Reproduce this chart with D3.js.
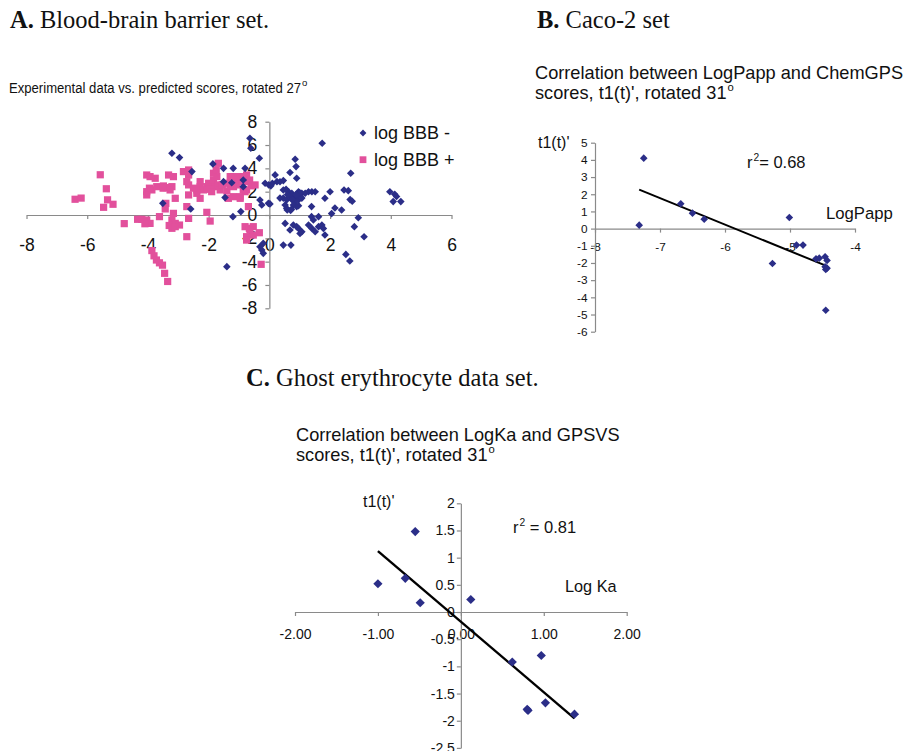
<!DOCTYPE html>
<html>
<head>
<meta charset="utf-8">
<script src="https://cdn.jsdelivr.net/npm/d3@7"></script>
<style>
  body { margin: 0; background: #fff; }
</style>
</head>
<body>
<div id="chart"></div>
<script>
// ---- A. blood-brain barrier: [predicted score, experimental] pairs
const bbbNeg = [
  [-3.21,5.29],[-2.96,4.92],[-3.51,1.00],[-2.59,0.52],[-2.55,3.72],[-1.86,4.38],[-1.51,4.00],[-1.51,2.86],
  [-1.24,2.77],[-1.46,1.49],[-1.20,-0.14],[-1.40,-4.43],[-0.94,0.29],[-0.86,3.00],[-0.80,4.00],[-0.86,2.43],
  [-0.64,6.58],[-0.61,5.72],[-0.33,4.86],[-0.31,1.29],[-0.25,0.86],[-0.20,-2.43],[-0.25,-3.00],[-0.20,-3.29],
  [-0.31,-2.72],[-1.19,4.00],
  [-0.14,2.72],[-0.02,2.58],[0.10,2.72],[0.25,2.86],[0.19,3.44],[0.35,2.85],[0.46,2.95],[0.05,2.50],
  [-0.03,1.00],[0.02,0.95],
  [1.74,6.15],[0.85,4.78],[0.88,4.15],[0.68,3.65],[0.90,3.15],
  [0.46,2.15],[0.63,2.00],[0.74,1.86],[0.96,2.00],[1.07,1.86],[1.18,1.86],[1.29,2.00],[1.40,2.00],[1.51,2.00],[0.55,2.20],
  [0.35,1.45],[0.46,1.45],[0.57,1.30],[0.68,1.60],[0.79,1.45],[0.90,1.60],[0.96,1.30],[1.01,1.60],[1.07,1.45],
  [0.85,1.15],[0.75,1.30],[1.00,1.90],[0.60,1.75],[0.88,1.75],
  [0.52,0.86],[0.57,0.57],[0.79,0.86],[0.90,0.72],[0.96,0.80],[0.70,0.40],[0.59,0.43],[0.73,0.49],
  [0.52,-0.72],[0.68,-1.29],[0.79,-0.86],[0.90,-1.00],[0.96,-1.15],[1.07,-1.43],[1.01,-1.58],[1.29,-0.86],
  [1.40,-1.15],[1.51,-1.43],[1.62,-1.00],[1.73,-0.86],[1.78,-1.15],[1.83,-1.72],[0.46,-2.58],[0.71,-2.58],
  [1.39,-0.14],[1.62,-0.14],[1.45,-0.43],[1.39,0.72],
  [1.83,1.43],[2.00,2.00],[2.05,0.12],[2.16,0.60],[2.38,0.43],[2.46,2.14],[2.60,2.09],[2.66,1.32],[2.73,1.18],
  [2.68,3.58],[2.93,-0.23],[2.80,-1.00],[3.12,-1.86],[2.52,-3.38],[2.65,-3.95],
  [3.97,2.00],[4.13,1.78],[4.19,1.58],[4.08,1.15],[4.33,1.15]
];
const bbbPos = [
  [-6.40,1.35],[-6.20,1.45],[-5.57,3.45],[-5.37,2.25],[-5.33,1.30],[-5.15,0.92],[-5.46,0.66],[-4.78,-0.74],
  [-4.34,-0.37],[-4.20,-0.37],[-4.04,-0.43],[-3.93,-0.72],[-4.10,-0.75],
  [-4.04,3.43],[-3.93,3.29],[-3.76,3.15],[-4.04,2.00],[-4.04,1.72],[-3.87,2.15],[-3.71,2.43],[-3.49,2.49],[-3.38,2.35],
  [-3.32,3.43],[-3.16,3.29],[-3.21,2.43],[-3.27,2.15],[-3.10,1.43],[-3.41,1.00],[-3.43,0.52],[-3.62,-0.14],[-3.16,0.14],
  [-3.21,-0.43],[-3.10,-0.72],[-3.21,-1.14],[-2.96,-0.86],[-3.30,-0.90],[-3.10,-1.00],[-3.50,2.30],[-3.95,2.30],
  [-2.83,3.72],[-2.66,3.86],[-2.66,3.43],[-2.72,2.86],[-2.66,2.58],[-2.66,1.72],[-2.72,0.72],[-2.66,-0.29],[-2.72,-1.86],
  [-2.39,2.15],[-2.28,2.43],[-2.28,2.86],[-2.17,2.15],[-2.28,1.43],[-2.06,0.23],[-1.95,-0.52],[-2.39,1.86],[-2.50,2.30],
  [-2.06,2.43],[-2.00,2.72],[-1.90,2.43],[-1.84,3.00],[-1.84,3.58],[-1.75,3.86],[-1.68,4.43],[-1.79,2.43],[-1.68,2.58],
  [-1.62,2.15],[-1.73,3.29],[-1.95,2.20],[-1.55,2.60],[-1.90,2.00],
  [-1.29,3.29],[-1.29,2.58],[-1.18,2.43],[-1.07,2.58],[-1.07,3.00],[-1.02,3.29],[-0.91,2.86],[-0.86,3.29],[-0.75,3.43],
  [-0.75,2.86],[-1.40,2.72],[-1.24,3.29],[-0.60,2.50],[-0.65,3.00],
  [-1.40,2.06],[-1.35,1.43],[-0.96,1.43],[-0.80,2.00],[-0.75,2.15],[-0.47,2.58],[-1.18,1.57],[-0.96,1.57],[-0.86,2.15],
  [-0.69,0.72],[-0.80,-1.00],[-0.66,-1.14],[-0.53,-1.00],[-0.53,-1.72],[-0.75,-1.86],[-0.33,-1.52],[-0.27,-4.23],
  [-0.64,-1.29],[-0.75,-2.15],
  [-3.87,-3.05],[-3.80,-3.50],[-3.72,-3.86],[-3.62,-4.10],[-3.52,-4.30],[-3.45,-5.00],[-3.35,-5.70]
];
const bbbXTicks = [-8, -6, -4, -2, 0, 2, 4, 6];
const bbbYTicks = [-8, -6, -4, -2, 0, 2, 4, 6, 8];
const bbbLegend = ["log BBB -", "log BBB +"];

// ---- B. Caco-2
const cacoLogPapp = [-7.32, -7.25, -6.68, -6.50, -6.32, -5.01, -5.27, -4.90, -4.80, -4.60, -4.55, -4.46, -4.43, -4.46, -4.45, -4.43, -4.45];
const cacoScore   = [0.20, 4.10, 1.45, 0.90, 0.55, 0.65, -2.03, -0.96, -0.96, -1.76, -1.72, -1.64, -1.85, -2.22, -2.38, -2.30, -4.75];
const cacoXTicks = [-8, -7, -6, -5, -4];
const cacoYTicks = [-6, -5, -4, -3, -2, -1, 0, 1, 2, 3, 4, 5];

// ---- C. Ghost erythrocyte
const ghostLogKa = [-1.00, -0.67, -0.55, -0.49, 0.12, 0.62, 0.97, 0.80, 0.81, 1.02, 1.37];
const ghostScore = [0.52, 0.62, 1.48, 0.17, 0.23, -0.92, -0.80, -1.79, -1.81, -1.67, -1.88];
const ghostXTicks = [-2, -1, 0, 1, 2];
const ghostYTicks = [-2.5, -2, -1.5, -1, -0.5, 0, 0.5, 1, 1.5, 2];

const blue = "#2b2e88";
const pink = "#e2509c";
const axisGrey = "#8a8a8a";
const sans = "'Liberation Sans', Arial, sans-serif";
const serif = "'Liberation Serif', 'Times New Roman', serif";

const width = 917;
const height = 751;
const svg = d3.select("#chart")
  .append("svg")
  .attr("width", width)
  .attr("height", height)
  .style("background", "#fff");

// diamond like excel's marker
function diamond(r) {
  return "M0," + (-r) + "L" + r + ",0L0," + r + "L" + (-r) + ",0Z";
}

// text line with a small raised part (degrees, r squared)
function supText(x, y, size, before, sup, after, squeeze) {
  const t = svg.append("text")
    .attr("x", x).attr("y", y)
    .attr("font-family", sans)
    .attr("font-size", size)
    .attr("fill", "#111");
  const first = t.append("tspan").text(before);
  if (squeeze) first.attr("textLength", squeeze).attr("lengthAdjust", "spacingAndGlyphs");
  t.append("tspan").attr("dx", 1).attr("dy", -size * 0.42).attr("font-size", size * 0.62).text(sup);
  if (after) t.append("tspan").attr("dy", size * 0.42).text(after);
  return t;
}

function panelTitle(x, y, letter, rest) {
  const t = svg.append("text")
    .attr("x", x).attr("y", y)
    .attr("font-family", serif)
    .attr("font-size", 24.5)
    .attr("fill", "#111");
  t.append("tspan").attr("font-weight", "bold").text(letter);
  t.append("tspan").text(" " + rest);
}

function styleAxis(g, fontSize) {
  g.select(".domain").attr("stroke", axisGrey).attr("stroke-width", 1.2);
  g.selectAll(".tick line").attr("stroke", axisGrey).attr("stroke-width", 1.2);
  g.selectAll(".tick text")
    .attr("fill", "#111")
    .attr("font-family", sans)
    .attr("font-size", fontSize);
}

function drawAxes(x, y, xAt, yAt, xTicks, yTicks, xFmt, yFmt, fontSize, xPad, yPad) {
  const gx = svg.append("g")
    .attr("transform", "translate(0," + y(xAt) + ")")
    .call(d3.axisBottom(x).tickValues(xTicks).tickFormat(xFmt)
      .tickSize(4).tickSizeOuter(0).tickPadding(xPad));
  styleAxis(gx, fontSize);
  const gy = svg.append("g")
    .attr("transform", "translate(" + x(yAt) + ",0)")
    .call(d3.axisLeft(y).tickValues(yTicks).tickFormat(yFmt)
      .tickSize(4).tickSizeOuter(0).tickPadding(yPad));
  styleAxis(gy, fontSize);
}

// least squares line drawn between the lowest and highest x
function trendLine(xs, ys, x, y, w) {
  const n = xs.length;
  const mx = d3.mean(xs), my = d3.mean(ys);
  let sxy = 0, sxx = 0;
  for (let i = 0; i < n; i++) {
    sxy += (xs[i] - mx) * (ys[i] - my);
    sxx += (xs[i] - mx) * (xs[i] - mx);
  }
  const slope = sxy / sxx;
  const icpt = my - slope * mx;
  const ends = d3.extent(xs);
  svg.append("line")
    .attr("x1", x(ends[0])).attr("y1", y(icpt + slope * ends[0]))
    .attr("x2", x(ends[1])).attr("y2", y(icpt + slope * ends[1]))
    .attr("stroke", "#000")
    .attr("stroke-width", w);
}

const str = d => String(d);

/* ===== A ===== */
panelTitle(10, 28, "A.", "Blood-brain barrier set.");
supText(9, 93, 15.5, "Experimental data vs. predicted scores, rotated 27", "o", null, 292);

const xA = d3.scaleLinear().domain([-8, 6]).range([26.5, 451.5]);
const yA = d3.scaleLinear().domain([-8, 8]).range([308.3, 121.7]);
drawAxes(xA, yA, 0, 0, bbbXTicks, bbbYTicks, str, str, 17.5, 19.5, 8);

svg.append("g").selectAll("rect")
  .data(bbbPos)
  .enter()
  .append("rect")
    .attr("x", d => xA(d[0]) - 3.6)
    .attr("y", d => yA(d[1]) - 3.6)
    .attr("width", 7.2)
    .attr("height", 7.2)
    .attr("fill", pink);

svg.append("g").selectAll("path")
  .data(bbbNeg)
  .enter()
  .append("path")
    .attr("transform", d => "translate(" + xA(d[0]) + "," + yA(d[1]) + ")")
    .attr("d", diamond(3.8))
    .attr("fill", blue);

// legend
const legA = svg.append("g").attr("transform", "translate(363,133)");
legA.append("path").attr("d", diamond(3.4)).attr("fill", blue);
legA.append("rect").attr("x", -3.4).attr("y", 23.3).attr("width", 6.8).attr("height", 6.8).attr("fill", pink);
legA.selectAll("text")
  .data(bbbLegend)
  .enter()
  .append("text")
    .attr("x", 11)
    .attr("y", (d, i) => i * 26.7 + 6.3)
    .attr("font-family", sans)
    .attr("font-size", 18)
    .attr("fill", "#111")
    .text(d => d);

/* ===== B ===== */
panelTitle(537, 28, "B.", "Caco-2 set");
svg.append("text")
  .attr("x", 535).attr("y", 78.5)
  .attr("font-family", sans).attr("font-size", 18.2).attr("fill", "#111")
  .text("Correlation between LogPapp and ChemGPS");
supText(535, 99, 18.2, "scores, t1(t)', rotated 31", "o");

const xB = d3.scaleLinear().domain([-8, -4]).range([595, 855]);
const yB = d3.scaleLinear().domain([-6, 5]).range([331.7, 142.7]);
drawAxes(xB, yB, 0, -8, cacoXTicks, cacoYTicks, str, str, 11.8, 10.5, 3.5);

trendLine(cacoLogPapp, cacoScore, xB, yB, 2);

svg.append("g").selectAll("path")
  .data(cacoLogPapp)
  .enter()
  .append("path")
    .attr("transform", (d, i) => "translate(" + xB(d) + "," + yB(cacoScore[i]) + ")")
    .attr("d", diamond(3.8))
    .attr("fill", blue);

svg.append("text")
  .attr("x", 538).attr("y", 148)
  .attr("font-family", sans).attr("font-size", 16).attr("fill", "#111")
  .text("t1(t)'");
supText(747, 167.5, 16.5, "r", "2", "= 0.68");
svg.append("text")
  .attr("x", 826).attr("y", 219)
  .attr("font-family", sans).attr("font-size", 16.7).attr("fill", "#111")
  .text("LogPapp");

/* ===== C ===== */
panelTitle(246, 386, "C.", "Ghost erythrocyte data set.");
svg.append("text")
  .attr("x", 296).attr("y", 441)
  .attr("font-family", sans).attr("font-size", 18.2).attr("fill", "#111")
  .text("Correlation between LogKa and GPSVS");
supText(296, 461, 18.2, "scores, t1(t)', rotated 31", "o");

const xC = d3.scaleLinear().domain([-2, 2]).range([295, 626.7]);
const yC = d3.scaleLinear().domain([-2.5, 2]).range([747.9, 503.3]);
drawAxes(xC, yC, 0, 0, ghostXTicks, ghostYTicks, d => d.toFixed(2), str, 14, 13.5, 2);

trendLine(ghostLogKa, ghostScore, xC, yC, 2.4);

svg.append("g").selectAll("path")
  .data(ghostLogKa)
  .enter()
  .append("path")
    .attr("transform", (d, i) => "translate(" + xC(d) + "," + yC(ghostScore[i]) + ")")
    .attr("d", diamond(4.6))
    .attr("fill", blue);

svg.append("text")
  .attr("x", 363).attr("y", 507)
  .attr("font-family", sans).attr("font-size", 16).attr("fill", "#111")
  .text("t1(t)'");
supText(513, 532.5, 16.5, "r", "2", " = 0.81");
svg.append("text")
  .attr("x", 565).attr("y", 592)
  .attr("font-family", sans).attr("font-size", 16.3).attr("fill", "#111")
  .text("Log Ka");
</script>
</body>
</html>
